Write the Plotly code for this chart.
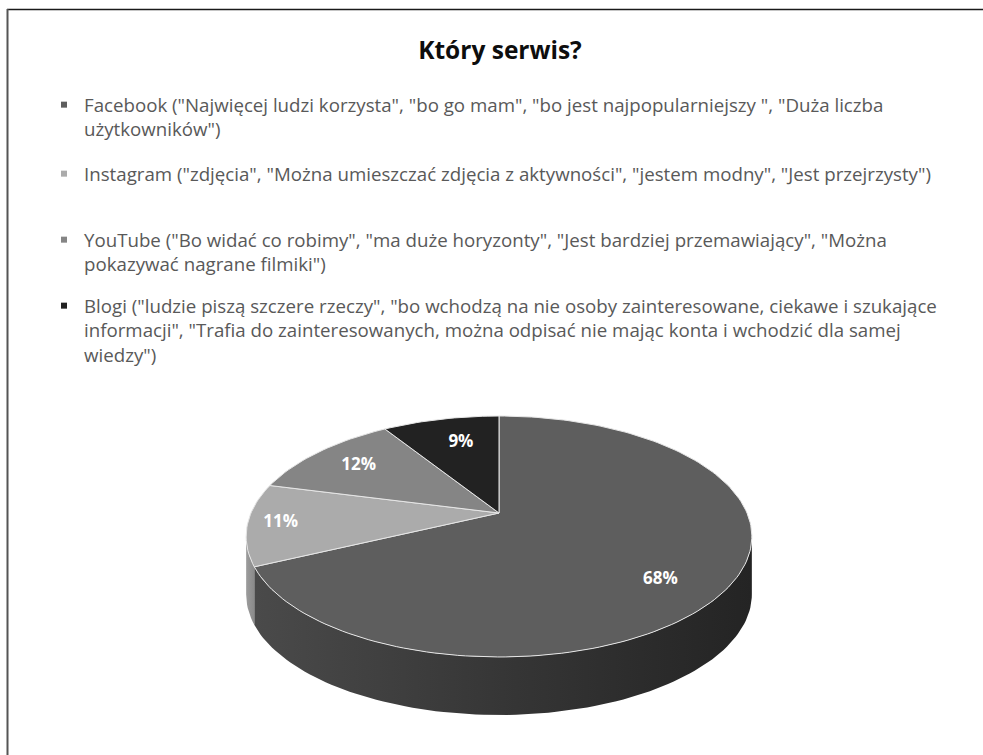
import math
import plotly.graph_objects as go

# ---------------- data ----------------
categories = ["Facebook", "Instagram", "YouTube", "Blogi"]
values = [68, 11, 12, 9]
legend_labels = [
    'Facebook ("Najwięcej ludzi korzysta", "bo go mam", "bo jest najpopularniejszy ", "Duża liczba<br>użytkowników")',
    'Instagram ("zdjęcia", "Można umieszczać zdjęcia z aktywności", "jestem modny", "Jest przejrzysty")',
    'YouTube ("Bo widać co robimy", "ma duże horyzonty", "Jest bardziej przemawiający", "Można<br>pokazywać nagrane filmiki")',
    'Blogi ("ludzie piszą szczere rzeczy", "bo wchodzą na nie osoby zainteresowane, ciekawe i szukające<br>informacji", "Trafia do zainteresowanych, można odpisać nie mając konta i wchodzić dla samej<br>wiedzy")',
]
title_text = "Który serwis?"

# ---------------- style ----------------
top_colors = ["#5e5e5e", "#ababab", "#858585", "#222222"]
wall_scales = [
    [[0, "#4a4a4a"], [0.5, "#363636"], [1, "#242424"]],
    [[0, "#9c9c9c"], [1, "#8a8a8a"]],
    [[0, "#707070"], [1, "#606060"]],
    [[0, "#1c1c1c"], [1, "#141414"]],
]
FONT = "Open Sans"
W, H = 983, 755
# pie geometry (pixel space of the hidden axes)
CX, CY = 499, 513            # projected centre of the top face
R, Q, P = 248, 115.9, 0.195  # horizontal radius, depth radius, perspective
THICK = 58
label_r = [0.78, 0.87, 0.76, 0.71]
label_shift = [9, 0, 0, 2]
legend_line1_y = [104, 173, 239, 305]
LEG_X = 44
LEG_FONT = 18.7


def proj(theta_deg, f=1.0, drop=0.0):
    t = math.radians(theta_deg)
    X, Z = f * math.sin(t), f * math.cos(t)
    w = 1.0 / (1.0 + P * Z)
    return CX + R * X * w, CY - Q * Z * w + drop


def arc(a0, a1, drop=0.0, n=None):
    n = n or max(2, int(abs(a1 - a0) / 1.5) + 1)
    pts = [proj(a0 + (a1 - a0) * i / (n - 1), 1.0, drop) for i in range(n)]
    return [p[0] for p in pts], [p[1] for p in pts]


total = sum(values)
bounds = [0.0]
for v in values:
    bounds.append(bounds[-1] + v / total * 360.0)

fig = go.Figure()

# visible front wall range (silhouette points)
vis0 = math.degrees(math.acos(-P))
vis1 = 360 - vis0

# walls
for i, cat in enumerate(categories):
    a0, a1 = max(bounds[i], vis0), min(bounds[i + 1], vis1)
    if a1 <= a0:
        continue
    xt, yt = arc(a0, a1)
    xb, yb = arc(a1, a0, THICK)
    fig.add_trace(go.Scatter(
        x=xt + xb + [xt[0]], y=yt + yb + [yt[0]], mode="lines", fill="toself",
        line=dict(width=0, color=top_colors[i]),
        fillgradient=dict(type="horizontal", colorscale=wall_scales[i]),
        hoverinfo="skip", showlegend=False))

# top faces
for i, cat in enumerate(categories):
    xa, ya = arc(bounds[i], bounds[i + 1])
    fig.add_trace(go.Scatter(
        x=[CX] + xa + [CX], y=[CY] + ya + [CY], mode="lines", fill="toself",
        fillcolor=top_colors[i], line=dict(color="#e6e6e6", width=1),
        name=cat, hoverinfo="text", text=f"{cat}: {values[i]}%", showlegend=False))

# percentage labels
lx, ly, lt = [], [], []
for i, v in enumerate(values):
    mid = (bounds[i] + bounds[i + 1]) / 2 + label_shift[i]
    x, y = proj(mid, label_r[i])
    lx.append(x); ly.append(y); lt.append(f"{round(v / total * 100)}%")
fig.add_trace(go.Scatter(x=lx, y=ly, text=lt, mode="text",
                         textfont=dict(family=FONT, size=17, color="white", weight="bold"),
                         hoverinfo="skip", showlegend=False))

# legend entries (one legend box per entry to reproduce spacing)
legend_names = ["legend", "legend2", "legend3", "legend4"]
for i, cat in enumerate(categories):
    fig.add_trace(go.Scatter(
        x=[None], y=[None], mode="markers", name=legend_labels[i],
        marker=dict(symbol="square", size=6, color=top_colors[i]),
        legend=legend_names[i], showlegend=True))

leg_common = dict(x=LEG_X / W, xanchor="left", yanchor="top", valign="top",
                  bgcolor="rgba(0,0,0,0)", borderwidth=0,
                  font=dict(family=FONT, size=LEG_FONT, color="#595959"),
                  itemclick=False, itemdoubleclick=False)
layout_legends = {}
for i, ln in enumerate(legend_names):
    layout_legends[ln] = dict(leg_common, y=1 - (legend_line1_y[i] - 18) / H)

fig.update_layout(
    width=W, height=H, margin=dict(l=0, r=0, t=0, b=0),
    paper_bgcolor="white", plot_bgcolor="white",
    title=dict(text=f"<b>{title_text}</b>", x=500 / W, xanchor="center", y=1 - 50 / H, yanchor="middle",
               font=dict(family=FONT, size=24.5, color="#0d0d0d")),
    xaxis=dict(range=[0, W], visible=False, fixedrange=True),
    yaxis=dict(range=[H, 0], visible=False, fixedrange=True),
    shapes=[
        dict(type="line", xref="x", yref="y", x0=7, x1=W, y0=9.5, y1=9.5,
             line=dict(color="#1a1a1a", width=1.5)),
        dict(type="line", xref="x", yref="y", x0=7.5, x1=7.5, y0=9, y1=H,
             line=dict(color="#555555", width=2)),
    ],
    **layout_legends,
)

fig.write_html("out.html")
